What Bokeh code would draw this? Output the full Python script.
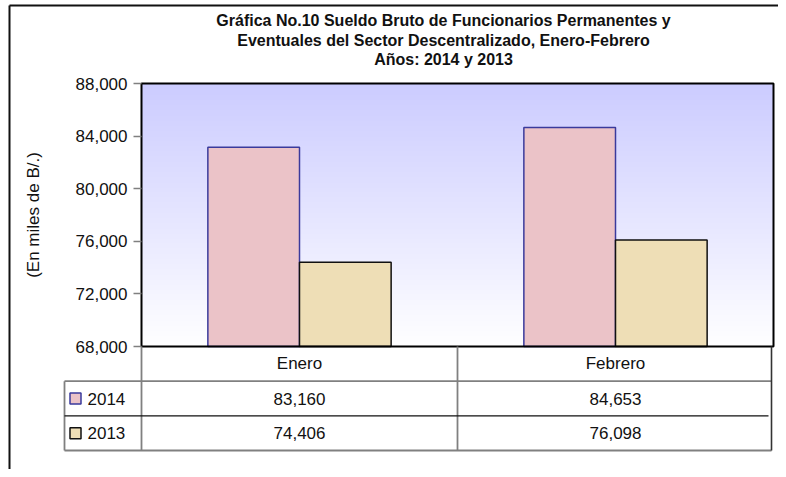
import numpy as np
from math import pi
from bokeh.plotting import figure
from bokeh.models import Range1d, LinearAxis, FixedTicker, NumeralTickFormatter
from bokeh.core.properties import value
from bokeh.embed import file_html
from bokeh.resources import INLINE

# ---------------- data ----------------
months = ["Enero", "Febrero"]
years = ["2014", "2013"]
vals_2014 = [83160, 84653]
vals_2013 = [74406, 76098]
y_ticks = [68000, 72000, 76000, 80000, 84000, 88000]
title_lines = [
    "Gráfica No.10 Sueldo Bruto de Funcionarios Permanentes y",
    "Eventuales del Sector Descentralizado, Enero-Febrero",
    "Años: 2014 y 2013",
]
y_label = "(En miles de B/.)"

# ---------------- layout helpers ----------------
W, H = 778, 469
FIG_L, FIG_T = 0, 0
CAT_PX = 316.0            # px per category
X0 = 141.0                # x of category 0 (plot-area left)
V_TOP_PX, V_BOT_PX = 83.0, 346.0
V_MIN, V_MAX = y_ticks[0], y_ticks[-1]
V_PX = (V_BOT_PX - V_TOP_PX) / (V_MAX - V_MIN)
T_PX = 34.67              # px per table row, row 0 top at V_BOT_PX


def cx(px):
    return (px - X0) / CAT_PX


def ty(py):
    return -(py - V_BOT_PX) / T_PX


x_start, x_end = cx(FIG_L), cx(FIG_L + W)
y_end = V_MAX + (V_TOP_PX - FIG_T) / V_PX
y_start = V_MIN - (FIG_T + H - V_BOT_PX) / V_PX

p = figure(width=W, height=H, output_backend="svg", toolbar_location=None,
           x_range=Range1d(x_start, x_end), y_range=Range1d(y_start, y_end),
           x_axis_location=None, y_axis_location=None, min_border=0,
           outline_line_color=None, background_fill_color="white",
           border_fill_color="white")
p.extra_y_ranges = {"tbl": Range1d(ty(FIG_T + H), ty(FIG_T))}
try:
    p.xgrid.grid_line_color = None
    p.ygrid.grid_line_color = None
except Exception:
    pass

FONT = value("Liberation Sans")
FS = "17px"
n_cat = len(months)

# ---------------- gradient background ----------------
N = 200
top_c = np.array([0xCC, 0xCC, 0xFF], dtype=float)
bot_c = np.array([0xFF, 0xFF, 0xFF], dtype=float)
img = np.empty((N, 1), dtype=np.uint32)
view = img.view(dtype=np.uint8).reshape((N, 1, 4))
for i in range(N):
    t = i / (N - 1)
    c = bot_c + (top_c - bot_c) * t
    view[i, 0, 0:3] = c.astype(np.uint8)
    view[i, 0, 3] = 255
p.image_rgba(image=[img], x=0, y=V_MIN, dw=n_cat, dh=V_MAX - V_MIN)

# ---------------- bars ----------------
bw = 0.29
centers = [i + 0.5 for i in range(n_cat)]
p.vbar(x=[c - bw / 2 for c in centers], width=bw, top=vals_2014, bottom=V_MIN,
       fill_color="#EBC3C8", line_color="#3A3A9C", line_width=1.5)
p.vbar(x=[c + bw / 2 for c in centers], width=bw, top=vals_2013, bottom=V_MIN,
       fill_color="#EEDEB6", line_color="#111111", line_width=1.5)

# plot-area border
p.quad(left=0, right=n_cat, bottom=V_MIN, top=V_MAX, fill_color=None,
       line_color="black", line_width=2)

# ---------------- y axis ----------------
ax = LinearAxis(fixed_location=0, ticker=FixedTicker(ticks=y_ticks),
                formatter=NumeralTickFormatter(format="0,0"),
                axis_line_color=None, major_tick_out=8, major_tick_in=0,
                minor_tick_line_color=None, major_tick_line_color="#808080",
                major_tick_line_width=1.5,
                major_label_text_font="Liberation Sans",
                major_label_text_font_size=FS,
                major_label_text_color="#111111", major_label_standoff=6)
p.add_layout(ax, "left")

p.text(x=[cx(33)], y=[(V_MIN + V_MAX) / 2], text=[y_label], angle=pi / 2,
       text_align="center", text_baseline="middle", text_font=FONT,
       text_font_size=FS, text_color="#111111")

# ---------------- title ----------------
p.text(x=[cx(443)] * 3, y=[ty(20), ty(40), ty(59)], text=title_lines,
       text_align="center", text_baseline="middle", text_font=FONT,
       text_font_size="16px", text_font_style="bold", text_color="#111111",
       y_range_name="tbl")

# ---------------- data table ----------------
tl = cx(64)
tr = cx(771)
gray = "#808080"
# gray lines
p.segment(x0=[tl, tl, tl, 0, 1], y0=[-1, -3, -1, 0, 0],
          x1=[tr, tr, tl, 0, 1], y1=[-1, -3, -3, -3, -3],
          line_color=gray, line_width=1.8, y_range_name="tbl")
# dark lines
p.segment(x0=[tl], y0=[-2], x1=[cx(768)], y1=[-2],
          line_color="#111111", line_width=1.2, y_range_name="tbl")
p.segment(x0=[tr], y0=[0], x1=[tr], y1=[-3],
          line_color="#333333", line_width=1.6, y_range_name="tbl")

p.text(x=centers, y=[-0.5] * n_cat, text=months, text_align="center",
       text_baseline="middle", text_font=FONT, text_font_size=FS,
       text_color="#111111", y_range_name="tbl")
p.text(x=centers, y=[-1.5] * n_cat, text=[f"{v:,}" for v in vals_2014],
       text_align="center", text_baseline="middle", text_font=FONT,
       text_font_size=FS, text_color="#111111", y_range_name="tbl")
p.text(x=centers, y=[-2.5] * n_cat, text=[f"{v:,}" for v in vals_2013],
       text_align="center", text_baseline="middle", text_font=FONT,
       text_font_size=FS, text_color="#111111", y_range_name="tbl")

# legend keys in table
p.scatter(x=[cx(75)] * 2, y=[-1.5, -2.5], marker="square", size=11,
          fill_color=["#EBC3C8", "#EEDEB6"], line_color=["#3A3A9C", "#111111"],
          line_width=1.5, y_range_name="tbl")
p.text(x=[cx(87)] * 2, y=[-1.5, -2.5], text=years, text_align="left",
       text_baseline="middle", text_font=FONT, text_font_size=FS,
       text_color="#111111", y_range_name="tbl")

# outer chart border (left and top edges visible)
p.segment(x0=[cx(9), cx(9)], y0=[ty(5), ty(5)], x1=[x_end, cx(9)],
          y1=[ty(5), ty(FIG_T + H)], line_color="#111111", line_width=2,
          y_range_name="tbl")

open("out.html", "w").write(file_html(p, INLINE))
